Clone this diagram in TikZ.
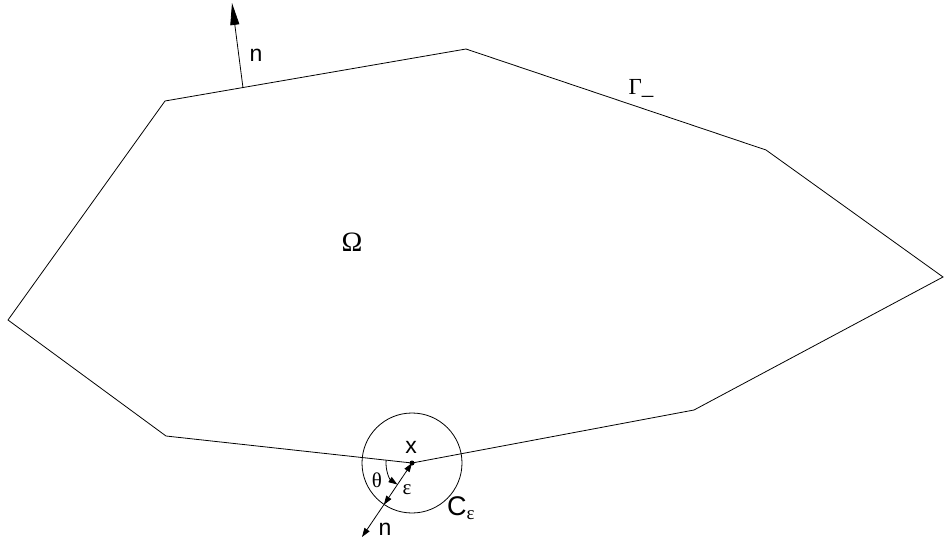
\documentclass[tikz,border=0pt]{standalone}
\usepackage{fontspec}
\setmainfont{Liberation Sans}
\newfontfamily\greekfont{Liberation Serif}
\usetikzlibrary{arrows.meta, calc}

\begin{document}
\begin{tikzpicture}[x=1pt, y=-1pt,
    edge/.style={draw=black, line width=0.8pt},
    normal/.style={-{Triangle[length=22pt, width=9pt]}, line width=0.8pt},
    epsarrow/.style={{Triangle[length=9pt, width=6pt]}-{Triangle[length=9pt, width=6pt]}, line width=0.8pt},
    small/.style={-{Triangle[length=9pt, width=6pt]}, line width=0.8pt},
    lbl/.style={font=\fontsize{23}{26}\selectfont, inner sep=0pt},
    glbl/.style={font=\greekfont\fontsize{23}{26}\selectfont, inner sep=0pt}
]
\useasboundingbox (0,0) rectangle (944,548);

%% ---- BOUNDARY: polygon vertices ----
\coordinate (A) at (8,320);
\coordinate (B) at (165,101);
\coordinate (C) at (466,49);
\coordinate (D) at (766,150);
\coordinate (E) at (943,277);
\coordinate (F) at (694,410);
\coordinate (X) at (412,463);
\coordinate (H) at (166,436);

\draw [edge] (A) -- (B) -- (C) -- (D) -- (E) -- (F) -- (X) -- (H) -- cycle;

%% ---- TOP NORMAL ----
\coordinate (foot) at ($(B)!0.259!(C)$);
\coordinate (tip)  at (232,3);
\draw [normal] (foot) -- (tip);
\node [lbl] (ntop) at (256,55) {n};

%% ---- LABELS ----
\node [glbl, font=\greekfont\fontsize{28}{30}\selectfont] (omega) at (352,242) {Ω};
\node [glbl] (gamma) at (641,88) {Γ\_};

%% ---- SMALL CIRCLE AT x ----
\node [circle, draw, line width=0.8pt, minimum size=100pt, inner sep=0pt] (ceps) at (X) {};
\fill (X) circle (2.5pt);
\coordinate (nend) at (362,537);
\draw [epsarrow] (X) -- (ceps.236);
\draw [small] (ceps.236) -- (nend);
\draw [small] (X) ++(186:26) arc [start angle=186, end angle=124, radius=26];

\node [lbl] (xlbl) at (411,447) {x};
\node [glbl, font=\greekfont\fontsize{21}{23}\selectfont] (theta) at (377,480) {θ};
\node [glbl, font=\greekfont\fontsize{21}{23}\selectfont] (eps) at (407,490) {ε};
\node [lbl, font=\fontsize{27}{29}\selectfont] (clbl) at (461,508) {C\textsubscript{\greekfont ε}};
\node [lbl] (nbot) at (385,529) {n};

\end{tikzpicture}
\end{document}
